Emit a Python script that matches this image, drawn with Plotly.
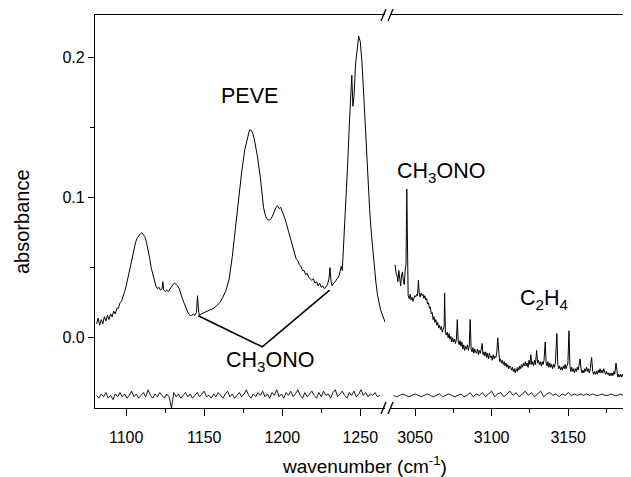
import plotly.graph_objects as go

# ---------------- data ----------------
# main spectrum, low-wavenumber segment
wn_left = [1081, 1082, 1083, 1084, 1085, 1086, 1087, 1088, 1089, 1090,
           1091, 1092, 1093, 1094, 1095, 1096, 1097, 1098, 1099, 1100,
           1101, 1102, 1103, 1104, 1105, 1106, 1107, 1108, 1109, 1110,
           1111, 1112, 1113, 1114, 1115, 1116, 1117, 1118, 1119, 1120,
           1121, 1122, 1123, 1123.5, 1124, 1125, 1126, 1127, 1128, 1129,
           1130, 1131, 1132, 1133, 1134, 1135, 1136, 1137, 1138, 1139,
           1140, 1141, 1142, 1143, 1144, 1145, 1145.7, 1146.5, 1147, 1148,
           1150, 1152, 1154, 1156, 1158, 1160, 1162, 1164, 1166, 1168,
           1170, 1172, 1174, 1176, 1178, 1179, 1180, 1181, 1182, 1184,
           1186, 1188, 1189, 1190, 1191, 1192, 1193, 1194, 1195, 1196,
           1197, 1198, 1199, 1200, 1202, 1204, 1206, 1207, 1208, 1209,
           1210, 1211, 1212, 1213, 1214, 1215, 1216, 1217, 1218, 1219,
           1220, 1221, 1222, 1223, 1224, 1225, 1226, 1227, 1228, 1229,
           1230, 1230.6, 1231.3, 1232, 1233, 1234, 1235, 1236, 1237, 1237.8,
           1238.5, 1239, 1240, 1241, 1242, 1243, 1244, 1244.6, 1245.3, 1246,
           1247, 1248, 1249, 1250, 1251, 1252, 1253, 1254, 1255, 1256,
           1257, 1258, 1259, 1260, 1261, 1262, 1263, 1264, 1265, 1266]
abs_left = [0.010, 0.014, 0.009, 0.013, 0.010, 0.015, 0.012, 0.016, 0.013, 0.017,
            0.015, 0.019, 0.017, 0.021, 0.021, 0.025, 0.026, 0.029, 0.033, 0.037,
            0.042, 0.048, 0.054, 0.059, 0.064, 0.068, 0.071, 0.073, 0.074, 0.075,
            0.073, 0.072, 0.068, 0.063, 0.057, 0.050, 0.045, 0.040, 0.037, 0.035,
            0.036, 0.034, 0.035, 0.040, 0.034, 0.033, 0.034, 0.033, 0.035, 0.036,
            0.038, 0.039, 0.038, 0.037, 0.035, 0.031, 0.028, 0.025, 0.022, 0.019,
            0.017, 0.016, 0.016, 0.017, 0.016, 0.018, 0.030, 0.018, 0.016, 0.017,
            0.018, 0.019, 0.020, 0.021, 0.023, 0.025, 0.029, 0.034, 0.042, 0.058,
            0.078, 0.100, 0.118, 0.134, 0.145, 0.148, 0.148, 0.146, 0.142, 0.130,
            0.114, 0.093, 0.088, 0.085, 0.084, 0.084, 0.085, 0.087, 0.090, 0.093,
            0.094, 0.092, 0.093, 0.090, 0.084, 0.076, 0.067, 0.063, 0.060, 0.056,
            0.055, 0.052, 0.051, 0.048, 0.048, 0.045, 0.046, 0.043, 0.042, 0.041,
            0.042, 0.039, 0.040, 0.037, 0.039, 0.036, 0.037, 0.035, 0.036, 0.038,
            0.042, 0.050, 0.040, 0.037, 0.039, 0.040, 0.042, 0.043, 0.047, 0.051,
            0.048, 0.058, 0.078, 0.100, 0.125, 0.152, 0.178, 0.187, 0.165, 0.172,
            0.195, 0.208, 0.215, 0.211, 0.198, 0.178, 0.155, 0.130, 0.110, 0.092,
            0.076, 0.062, 0.050, 0.040, 0.031, 0.025, 0.020, 0.017, 0.014, 0.011]

# main spectrum, high-wavenumber segment
wn_right = [3037.0, 3037.6, 3038.3, 3038.8, 3039.4, 3040.0, 3040.6, 3041.2, 3041.8, 3042.4,
            3043.0, 3043.6, 3044.1, 3044.6, 3045.0, 3045.5, 3046.2, 3046.8, 3047.4, 3048.0,
            3048.6, 3049.2, 3049.8, 3050.4, 3051.0, 3051.6, 3052.2, 3052.7, 3053.3, 3054.0,
            3054.6, 3055.2, 3055.8, 3056.4, 3057.0, 3057.6, 3058.2, 3058.8, 3059.4, 3060.0,
            3060.6, 3061.2, 3061.8, 3062.4, 3063.0, 3063.6, 3064.2, 3064.8, 3065.4, 3066.0,
            3066.6, 3067.2, 3067.8, 3068.4, 3069.0, 3069.3, 3069.8, 3070.4, 3071.0, 3071.6,
            3072.2, 3072.8, 3073.4, 3074.0, 3074.6, 3075.2, 3075.8, 3076.4, 3077.0, 3077.6,
            3078.2, 3078.8, 3079.4, 3080.0, 3080.6, 3081.2, 3081.8, 3082.4, 3083.0, 3083.6,
            3084.2, 3084.8, 3085.4, 3086.0, 3086.6, 3087.2, 3087.8, 3088.4, 3089.0, 3089.6,
            3090.2, 3090.8, 3091.4, 3092.0, 3092.6, 3093.2, 3093.8, 3094.4, 3095.0, 3095.6,
            3096.2, 3096.8, 3097.4, 3098.0, 3098.6, 3099.2, 3099.8, 3100.4, 3101.0, 3101.6,
            3102.2, 3102.8, 3103.4, 3104.0, 3104.6, 3105.2, 3105.8, 3106.4, 3107.0, 3107.6,
            3108.2, 3108.8, 3109.4, 3110.0, 3110.6, 3111.2, 3111.8, 3112.4, 3113.0, 3113.6,
            3114.2, 3114.8, 3115.4, 3116.0, 3116.6, 3117.2, 3117.8, 3118.4, 3119.0, 3119.6,
            3120.2, 3120.8, 3121.4, 3122.0, 3122.6, 3123.2, 3123.8, 3124.4, 3125.0, 3125.6,
            3126.2, 3126.8, 3127.4, 3128.0, 3128.6, 3129.4, 3130.0, 3130.6, 3131.2, 3131.8,
            3132.4, 3133.0, 3133.6, 3134.2, 3135.0, 3135.6, 3136.2, 3136.8, 3137.4, 3138.0,
            3138.6, 3139.2, 3139.8, 3140.4, 3141.0, 3141.6, 3142.6, 3143.2, 3143.8, 3144.4,
            3145.0, 3145.6, 3146.2, 3146.8, 3147.4, 3148.0, 3148.6, 3149.2, 3149.8, 3150.5,
            3151.1, 3151.7, 3152.3, 3152.9, 3153.5, 3154.1, 3154.7, 3155.3, 3155.9, 3156.5,
            3157.1, 3157.8, 3158.4, 3159.0, 3159.6, 3160.2, 3160.8, 3161.4, 3162.0, 3162.6,
            3163.2, 3163.8, 3164.4, 3165.3, 3166.0, 3166.6, 3167.2, 3167.8, 3168.4, 3169.0,
            3169.6, 3170.2, 3170.8, 3171.4, 3172.0, 3172.6, 3173.2, 3173.8, 3174.4, 3175.0,
            3175.6, 3176.2, 3176.8, 3177.4, 3178.0, 3178.6, 3179.2, 3179.8, 3180.4, 3181.2,
            3181.8, 3182.4, 3183.0, 3183.6, 3184.2, 3184.8, 3185.4, 3186.0, 3186.6, 3187.2,
            3187.8, 3188.4, 3189.0, 3189.6, 3190.2, 3191.0]
abs_right = [0.052, 0.046, 0.044, 0.040, 0.048, 0.044, 0.037, 0.045, 0.047, 0.040,
             0.038, 0.049, 0.052, 0.106, 0.062, 0.030, 0.028, 0.031, 0.027, 0.029,
             0.026, 0.028, 0.030, 0.029, 0.031, 0.030, 0.041, 0.032, 0.029, 0.032,
             0.030, 0.031, 0.028, 0.030, 0.027, 0.028, 0.024, 0.025, 0.021, 0.022,
             0.017, 0.018, 0.013, 0.015, 0.011, 0.013, 0.009, 0.011, 0.007, 0.009,
             0.006, 0.008, 0.004, 0.006, 0.008, 0.032, 0.004, 0.002, 0.004, 0.000,
             0.003, -0.001, 0.001, -0.003, 0.000, -0.003, -0.001, -0.004, -0.001, 0.013,
             -0.003, -0.005, -0.002, -0.006, -0.003, -0.008, -0.005, -0.009, -0.006, -0.008,
             -0.005, -0.009, -0.006, 0.013, -0.008, -0.010, -0.007, -0.011, -0.008, -0.010,
             -0.011, -0.008, -0.012, -0.009, -0.011, -0.008, -0.004, -0.012, -0.010, -0.013,
             -0.010, -0.014, -0.011, -0.015, -0.011, -0.014, -0.013, -0.016, -0.012, -0.015,
             -0.013, -0.014, -0.010, 0.000, -0.014, -0.017, -0.015, -0.018, -0.016, -0.019,
             -0.017, -0.020, -0.018, -0.021, -0.019, -0.022, -0.020, -0.021, -0.023, -0.021,
             -0.024, -0.022, -0.025, -0.022, -0.024, -0.021, -0.023, -0.020, -0.022, -0.019,
             -0.021, -0.018, -0.020, -0.017, -0.020, -0.018, -0.021, -0.016, -0.019, -0.012,
             -0.019, -0.017, -0.020, -0.016, -0.019, -0.009, -0.018, -0.016, -0.019, -0.017,
             -0.020, -0.017, -0.019, -0.016, -0.003, -0.018, -0.020, -0.017, -0.021, -0.018,
             -0.021, -0.019, -0.022, -0.019, -0.021, -0.018, 0.003, -0.019, -0.022, -0.020,
             -0.023, -0.021, -0.023, -0.020, -0.022, -0.019, -0.022, -0.020, -0.018, 0.005,
             -0.020, -0.024, -0.021, -0.024, -0.022, -0.025, -0.022, -0.024, -0.021, -0.023,
             -0.020, -0.015, -0.022, -0.025, -0.023, -0.025, -0.022, -0.024, -0.021, -0.024,
             -0.022, -0.025, -0.022, -0.014, -0.024, -0.026, -0.024, -0.026, -0.024, -0.026,
             -0.023, -0.025, -0.022, -0.025, -0.023, -0.025, -0.022, -0.024, -0.026, -0.024,
             -0.026, -0.025, -0.027, -0.025, -0.027, -0.025, -0.027, -0.024, -0.026, -0.018,
             -0.026, -0.028, -0.026, -0.028, -0.026, -0.028, -0.026, -0.028, -0.027, -0.028,
             -0.026, -0.028, -0.027, -0.028, -0.027, -0.028]

# residual spectrum (sampled every 1.5 cm-1 from 1081, and every 2 cm-1 from 3036)
res_left_start, res_left_step = 1081.0, 1.5
res_left = [-0.041, -0.043, -0.040, -0.042, -0.039, -0.043, -0.041, -0.044, -0.040, -0.042,
            -0.039, -0.042, -0.040, -0.043, -0.041, -0.038, -0.042, -0.040, -0.043, -0.041,
            -0.039, -0.042, -0.037, -0.041, -0.043, -0.040, -0.042, -0.039, -0.041, -0.043,
            -0.040, -0.042, -0.050, -0.039, -0.042, -0.040, -0.043, -0.041, -0.039, -0.042,
            -0.040, -0.043, -0.041, -0.039, -0.042, -0.040, -0.038, -0.042, -0.041, -0.043,
            -0.040, -0.042, -0.039, -0.041, -0.043, -0.040, -0.038, -0.042, -0.040, -0.043,
            -0.041, -0.039, -0.042, -0.040, -0.037, -0.041, -0.043, -0.040, -0.042, -0.039,
            -0.041, -0.038, -0.042, -0.040, -0.043, -0.039, -0.041, -0.037, -0.042, -0.040,
            -0.043, -0.039, -0.041, -0.038, -0.042, -0.040, -0.037, -0.041, -0.043, -0.039,
            -0.042, -0.040, -0.038, -0.041, -0.043, -0.039, -0.042, -0.038, -0.041, -0.040,
            -0.043, -0.039, -0.037, -0.042, -0.040, -0.038, -0.041, -0.043, -0.039, -0.041,
            -0.038, -0.042, -0.040, -0.037, -0.041, -0.039, -0.042, -0.040, -0.041, -0.039,
            -0.042, -0.041]
res_right_start, res_right_step = 3036.0, 2.0
res_right = [-0.041, -0.042, -0.041, -0.040, -0.041, -0.042, -0.041, -0.040, -0.041, -0.042,
             -0.041, -0.040, -0.041, -0.042, -0.041, -0.040, -0.042, -0.041, -0.040, -0.041,
             -0.042, -0.041, -0.040, -0.042, -0.041, -0.039, -0.042, -0.040, -0.041, -0.039,
             -0.042, -0.040, -0.038, -0.042, -0.040, -0.039, -0.042, -0.040, -0.038, -0.041,
             -0.039, -0.042, -0.040, -0.038, -0.041, -0.039, -0.042, -0.040, -0.038, -0.042,
             -0.040, -0.039, -0.041, -0.040, -0.042, -0.040, -0.041, -0.039, -0.041, -0.040,
             -0.041, -0.040, -0.041, -0.040, -0.041, -0.040, -0.041, -0.041, -0.040, -0.041,
             -0.041, -0.040, -0.041, -0.041, -0.040, -0.041, -0.041, -0.040]

# CH3ONO pointer lines (peak at 1146 -> label -> peak at 1230.5)
pointer_wn = [1146.2, 1187.2, 1230.4]
pointer_abs = [0.0157, -0.0064, 0.034]

# axis settings
y_range = [-0.05, 0.23]
y_ticks = [0.0, 0.1, 0.2]
x_left_range = [1080, 1266]
x_right_range = [3034.3, 3191]

# --------------------------------------------------------------
res_left_wn = [res_left_start + i * res_left_step for i in range(len(res_left))]
res_right_wn = [res_right_start + i * res_right_step for i in range(len(res_right))]

FONT = "Liberation Sans, Arial, sans-serif"
line = dict(color="black", width=1)

fig = go.Figure()
fig.add_trace(go.Scatter(x=wn_left, y=abs_left, mode="lines", line=line,
                         xaxis="x", yaxis="y", showlegend=False))
fig.add_trace(go.Scatter(x=res_left_wn, y=res_left, mode="lines",
                         line=dict(color="black", width=0.9),
                         xaxis="x", yaxis="y", showlegend=False))
fig.add_trace(go.Scatter(x=wn_right, y=abs_right, mode="lines", line=line,
                         xaxis="x2", yaxis="y", showlegend=False))
fig.add_trace(go.Scatter(x=res_right_wn, y=res_right, mode="lines",
                         line=dict(color="black", width=0.9),
                         xaxis="x2", yaxis="y", showlegend=False))
fig.add_trace(go.Scatter(x=pointer_wn, y=pointer_abs, mode="lines",
                         line=dict(color="black", width=1.6),
                         xaxis="x", yaxis="y", showlegend=False))

# the page body adds an 8 px margin, so the figure is sized to fit the window
OFF = 8
W, H = 631 - OFF, 477 - OFF
L, R, T, B = 87, 0, 7, 69
pw, ph = W - L - R, H - T - B
split_l = 290.2 / pw
split_r = 296 / pw

xcommon = dict(showline=True, linecolor="black", linewidth=1.2, mirror=True,
               ticks="outside", ticklen=7, tickwidth=1.2, tickcolor="black",
               showgrid=False, zeroline=False, dtick=50,
               tickfont=dict(family=FONT, size=16, color="black"),
               minor=dict(dtick=25, ticks="outside", ticklen=4, tickwidth=1.2,
                          tickcolor="black", showgrid=False),
               ticklabelstandoff=8)

fig.update_layout(
    width=W, height=H,
    margin=dict(l=L, r=R, t=T, b=B),
    paper_bgcolor="white", plot_bgcolor="white",
    font=dict(family=FONT, color="black"),
    xaxis=dict(domain=[0, split_l], range=x_left_range, tick0=1000, anchor="y",
               **xcommon),
    xaxis2=dict(domain=[split_r, 1], range=x_right_range, tick0=3000, anchor="y",
                **xcommon),
    yaxis=dict(range=y_range, tickvals=y_ticks, tickformat=".1f",
               showline=True, linecolor="black", linewidth=1.2, mirror=False,
               ticks="outside", ticklen=6, tickwidth=1.2, tickcolor="black",
               showgrid=False, zeroline=False, anchor="x",
               tickfont=dict(family=FONT, size=16, color="black"),
               minor=dict(tickvals=[0.05, 0.15], ticks="outside", ticklen=4,
                          tickwidth=1.2, tickcolor="black", showgrid=False)),
)

def px_x(px):
    return (px - OFF - L) / pw

def px_y(py):
    return 1 - (py - OFF - T) / ph

shapes = []
for (x0, x1) in [(381, 386), (388, 393)]:
    for ymid in [15, 408]:
        shapes.append(dict(type="line", xref="paper", yref="paper",
                           x0=px_x(x0), x1=px_x(x1),
                           y0=px_y(ymid + 6), y1=px_y(ymid - 6),
                           line=dict(color="black", width=1.3)))
fig.update_layout(shapes=shapes)

ann_font = dict(family=FONT, size=21.5, color="black")
fig.add_annotation(x=1179, y=0.172, xref="x", yref="y", text="PEVE",
                   showarrow=False, font=ann_font)
fig.add_annotation(x=1192, y=-0.017, xref="x", yref="y", text="CH<sub>3</sub>ONO",
                   showarrow=False, font=ann_font)
fig.add_annotation(x=3067, y=0.118, xref="x2", yref="y", text="CH<sub>3</sub>ONO",
                   showarrow=False, font=ann_font)
fig.add_annotation(x=3134, y=0.027, xref="x2", yref="y", text="C<sub>2</sub>H<sub>4</sub>",
                   showarrow=False, font=ann_font)
fig.add_annotation(x=px_x(364), y=px_y(465), xref="paper", yref="paper",
                   xanchor="center", yanchor="middle",
                   text="wavenumber (cm<sup>-1</sup>)", showarrow=False,
                   font=dict(family=FONT, size=19, color="black"))
fig.add_annotation(x=px_x(22), y=px_y(222), xref="paper", yref="paper",
                   xanchor="center", yanchor="middle",
                   text="absorbance", textangle=-90, showarrow=False,
                   font=dict(family=FONT, size=20, color="black"))

fig.write_html("out.html")
